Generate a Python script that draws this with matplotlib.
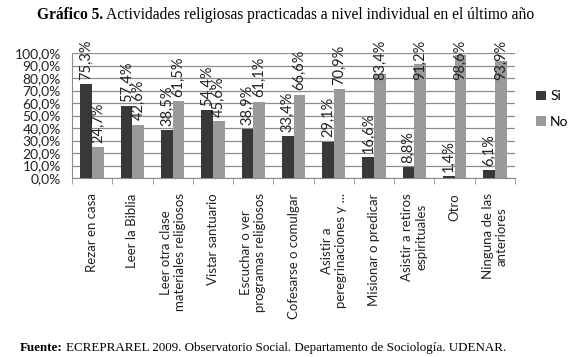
import matplotlib
matplotlib.use("Agg")
import matplotlib.pyplot as plt
import numpy as np

categories = ["Rezar en casa", "Leer la Biblia", "Leer otra clase\nmateriales religiosos",
              "Vistar santuario", "Escuchar o ver\nprogramas religiosos", "Cofesarse o comulgar",
              "Asistir a\nperegrinaciones y ...", "Misionar o predicar",
              "Asistir a retiros\nespirituales", "Otro", "Ninguna de las\nanteriores"]
si = [75.3, 57.4, 38.5, 54.4, 38.9, 33.4, 29.1, 16.6, 8.8, 1.4, 6.1]
no = [24.7, 42.6, 61.5, 45.6, 61.1, 66.6, 70.9, 83.4, 91.2, 98.6, 93.9]
yticks = list(range(0, 101, 10))

font = "Lato"
fig = plt.figure(figsize=(5.8, 3.57), dpi=100)
W, H = 580, 357
ax = fig.add_axes([72 / W, 1 - 178 / H, (515 - 72) / W, (178 - 53) / H])

x = np.arange(len(categories))
bw = 0.29
c_si, c_no = "#383838", "#9a9a9a"
b1 = ax.bar(x - bw / 2, si, bw, color=c_si, label="Si", zorder=3)
b2 = ax.bar(x + bw / 2, no, bw, color=c_no, label="No", zorder=3)

def fmt(v):
    return f"{v:.1f}%".replace(".", ",")

top_limit = 110.4  # label ceiling (data units), as the chart clamps labels
for bars, vals in ((b1, si), (b2, no)):
    for r, v in zip(bars, vals):
        cx = r.get_x() + r.get_width() / 2
        if v + 4 + 29.6 > top_limit:
            ax.text(cx, top_limit, fmt(v), rotation=90, ha="center", va="top",
                    fontsize=10.5, family=font, color="#222222", zorder=4, clip_on=False)
        else:
            ax.text(cx, v + 3.5, fmt(v), rotation=90, ha="center", va="bottom",
                    fontsize=10.5, family=font, color="#222222", zorder=4, clip_on=False)

ax.set_xlim(-0.5, len(categories) - 0.5)
ax.set_ylim(0, 100)
ax.set_yticks(yticks)
ax.set_yticklabels([f"{t},0%" for t in yticks], family=font, fontsize=10, color="#222222")
ax.yaxis.grid(True, color="#8c8c8c", linewidth=0.9, zorder=0)
ax.tick_params(axis="y", length=0, pad=8)
ax.set_xticks(np.arange(len(categories) + 1) - 0.5, minor=True)
ax.set_xticks(x)
ax.set_xticklabels(categories, rotation=90, family=font, fontsize=9.5, color="#222222",
                   ha="center", va="top", multialignment="center")
ax.tick_params(axis="x", which="major", length=0, pad=11)
ax.tick_params(axis="x", which="minor", length=4, color="#8c8c8c")
for s in ("top", "right"):
    ax.spines[s].set_visible(False)
ax.spines["left"].set_color("#8c8c8c")
ax.spines["bottom"].set_color("#8c8c8c")

ax.legend(loc="center left", bbox_to_anchor=(1.02, 0.55), frameon=False,
          prop={"family": font, "size": 10}, handlelength=0.7, handleheight=0.7,
          handletextpad=0.3, labelspacing=1.0)

# Title: bold part + regular part
fig.canvas.draw()
r = fig.canvas.get_renderer()
tf = "Liberation Serif"
t1 = fig.text(37 / W, 1 - 15 / H, "Gráfico 5.", family=tf, fontsize=11.2, weight="bold",
              va="center", ha="left")
bb = t1.get_window_extent(r)
fig.text((bb.x1 + 3) / W, 1 - 15 / H, "Actividades religiosas practicadas a nivel individual en el último año",
         family=tf, fontsize=11.2, va="center", ha="left")
t2 = fig.text(20 / W, 1 - 348 / H, "Fuente:", family=tf, fontsize=9.4, weight="bold",
              va="center", ha="left")
bb2 = t2.get_window_extent(r)
fig.text((bb2.x1 + 3) / W, 1 - 348 / H,
         "ECREPRAREL 2009. Observatorio Social. Departamento de Sociología. UDENAR.",
         family=tf, fontsize=9.4, va="center", ha="left")

fig.savefig("out.png", dpi=100)
